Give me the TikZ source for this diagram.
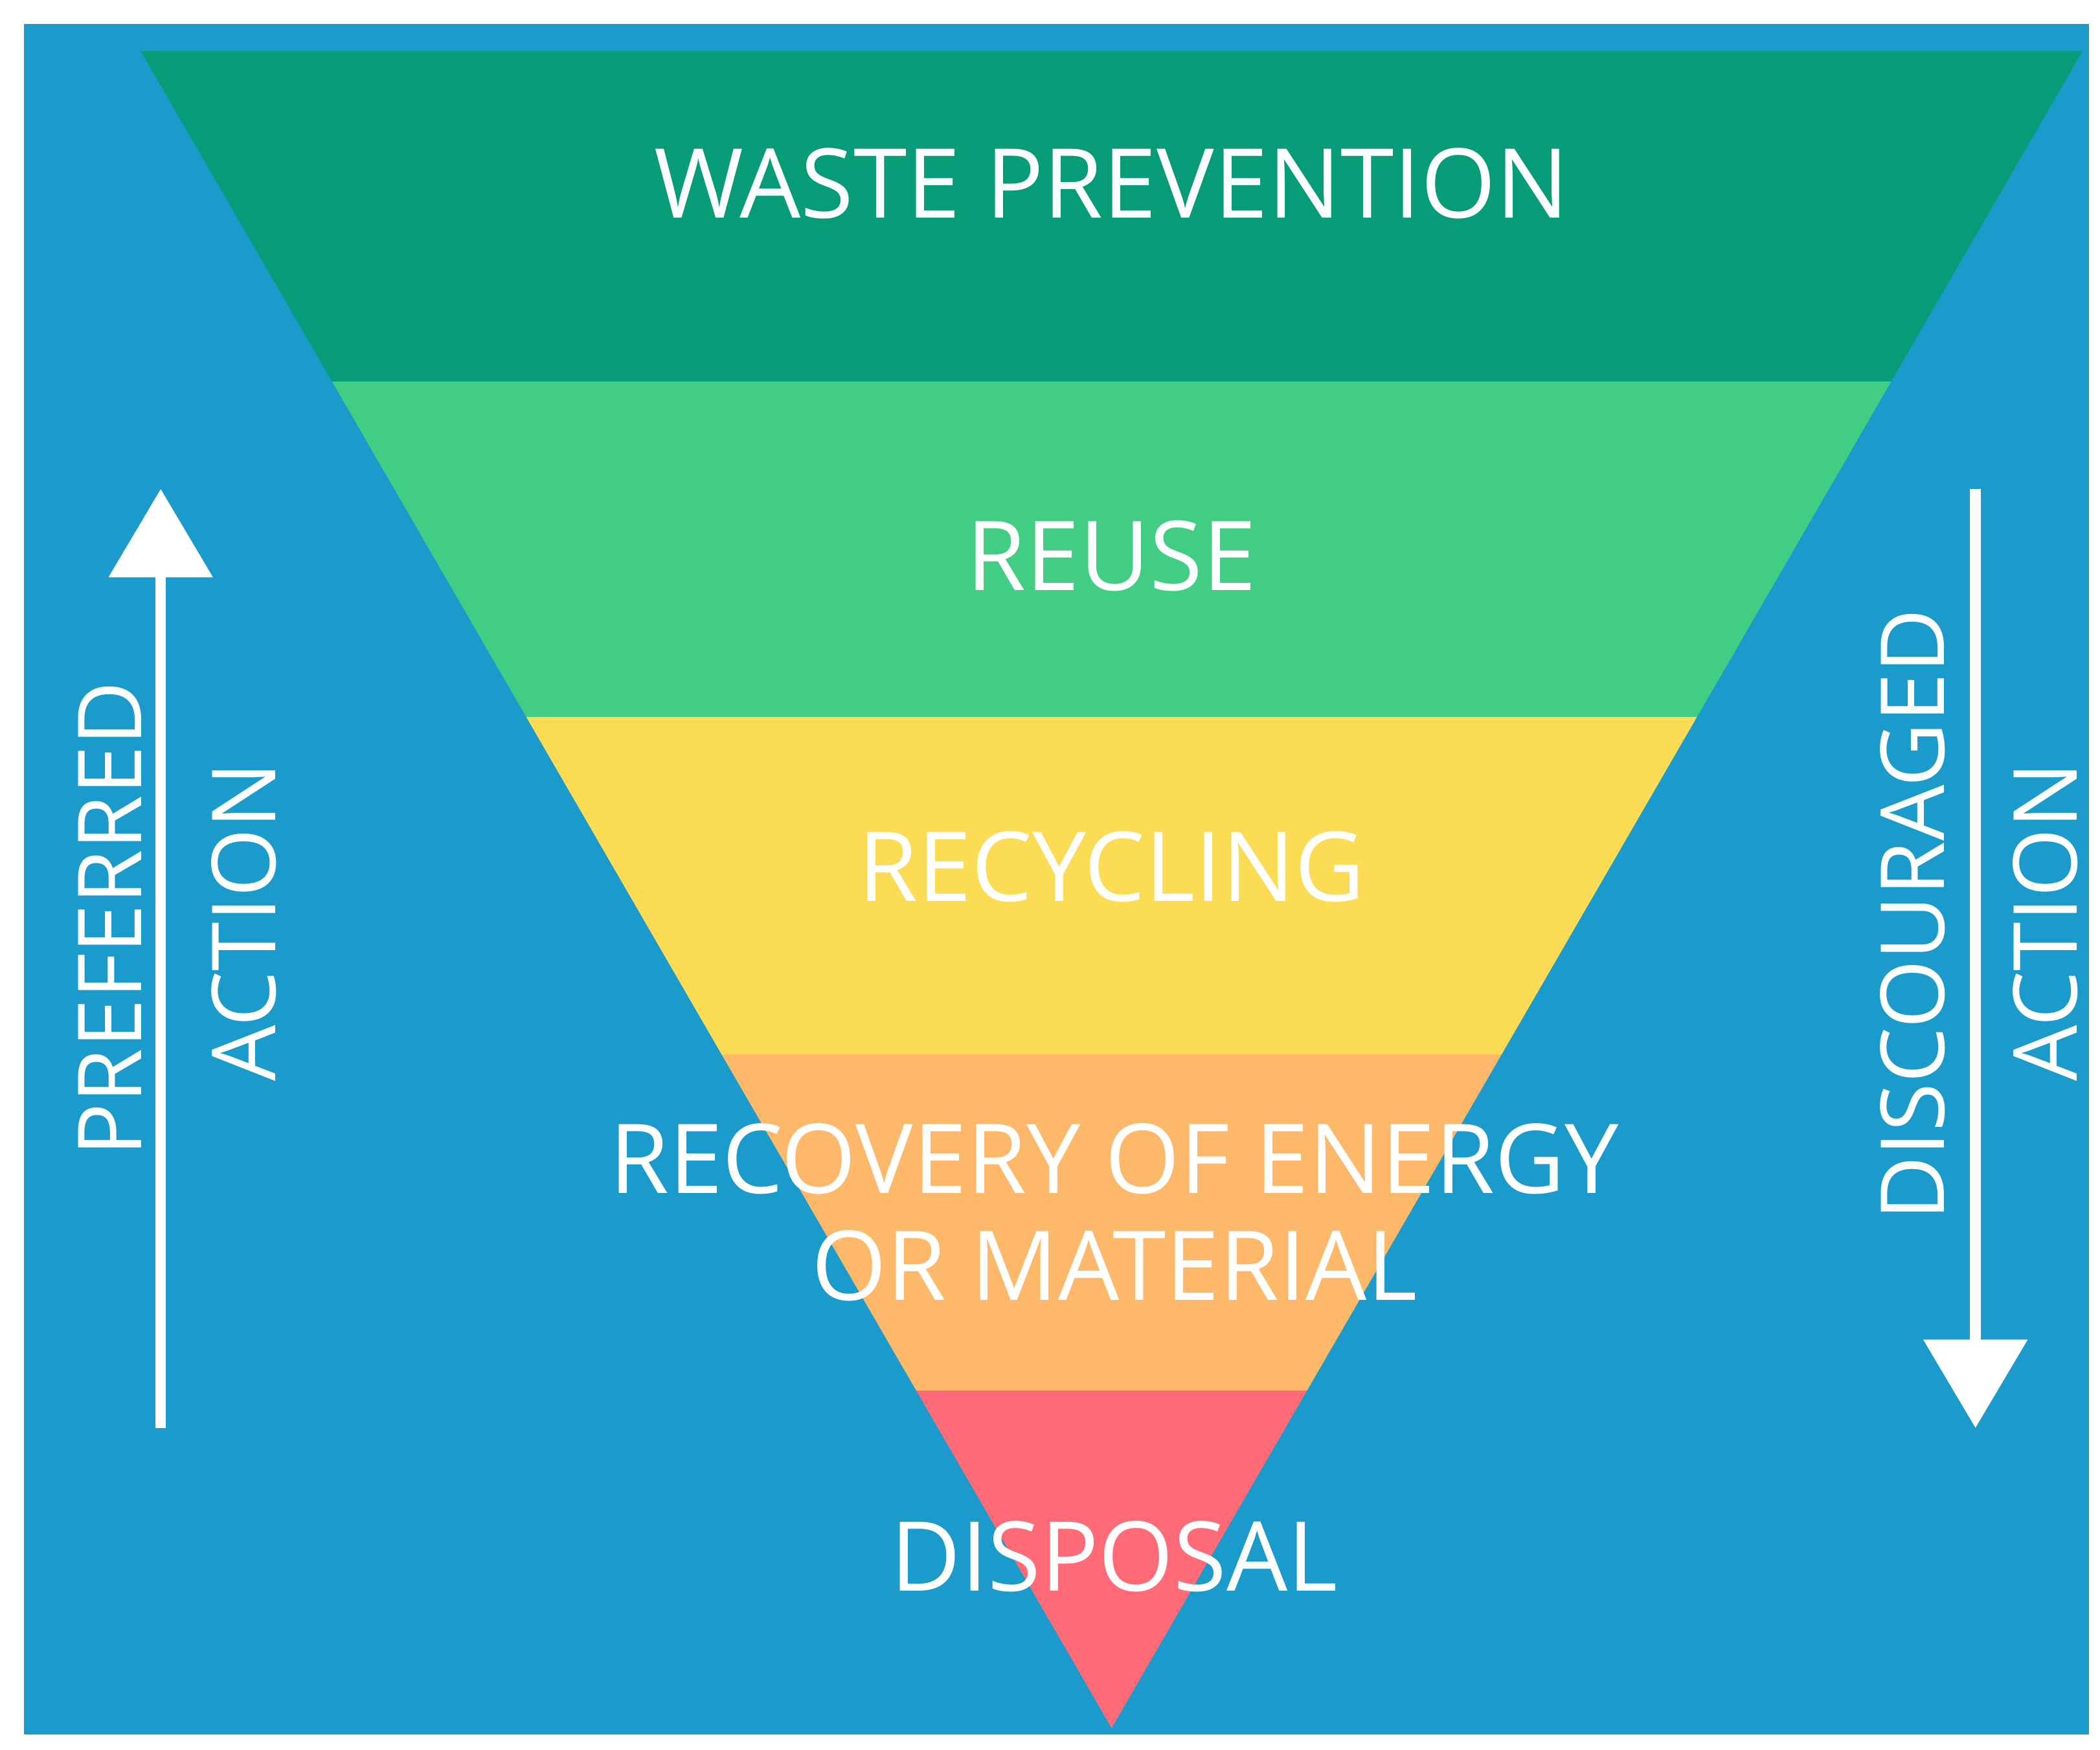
\documentclass[tikz,border=0pt]{standalone}
\usepackage{fontspec}
\setmainfont{Open Sans}
\usetikzlibrary{arrows.meta}
\definecolor{bg}{HTML}{1A9BCC}
\definecolor{c1}{HTML}{079C78}
\definecolor{c2}{HTML}{41CE84}
\definecolor{c3}{HTML}{FDDC55}
\definecolor{c4}{HTML}{FDB869}
\definecolor{c5}{HTML}{FE6B76}
\begin{document}
\begin{tikzpicture}[x=1pt,y=-1pt,
  lbl/.style={text=white,font=\fontsize{72}{80}\selectfont,align=center,inner sep=0},
  side/.style={text=white,font=\fontsize{66}{72}\selectfont,rotate=90,inner sep=0},
  bigarrow/.style={draw=white,line width=8pt,-{Triangle[width=76pt,length=66pt]}}]
\useasboundingbox (0,0) rectangle (1568,1306);
\fill[white] (0,0) rectangle (1568,1306);
\fill[bg] (18,18) rectangle (1560,1295);
\begin{scope}
\clip (105,38) -- (1555,38) -- (830,1290) -- cycle;
\fill[c1] (0,30) rectangle (1568,285);
\fill[c2] (0,285) rectangle (1568,535);
\fill[c3] (0,535) rectangle (1568,787);
\fill[c4] (0,787) rectangle (1568,1038);
\fill[c5] (0,1038) rectangle (1568,1300);
\end{scope}
\node[lbl] (t1) at (830,137) {WASTE PREVENTION};
\node[lbl] (t2) at (830,415) {REUSE};
\node[lbl] (t3) at (830,647) {RECYCLING};
\node[lbl] (t4) at (832,905) {RECOVERY OF ENERGY\\OR MATERIAL};
\node[lbl] (t5) at (832,1162) {DISPOSAL};
\node[side] (p1) at (82,686) {PREFERRED};
\node[side] (p2) at (182,688) {ACTION};
\node[side] (d1) at (1428,683) {DISCOURAGED};
\node[side] (d2) at (1527,688) {ACTION};
\coordinate (la) at (120,1066);
\coordinate (lb) at (120,365);
\coordinate (ra) at (1475,365);
\coordinate (rb) at (1475,1066);
\draw[bigarrow] (la) -- (lb);
\draw[bigarrow] (ra) -- (rb);
\end{tikzpicture}
\end{document}
